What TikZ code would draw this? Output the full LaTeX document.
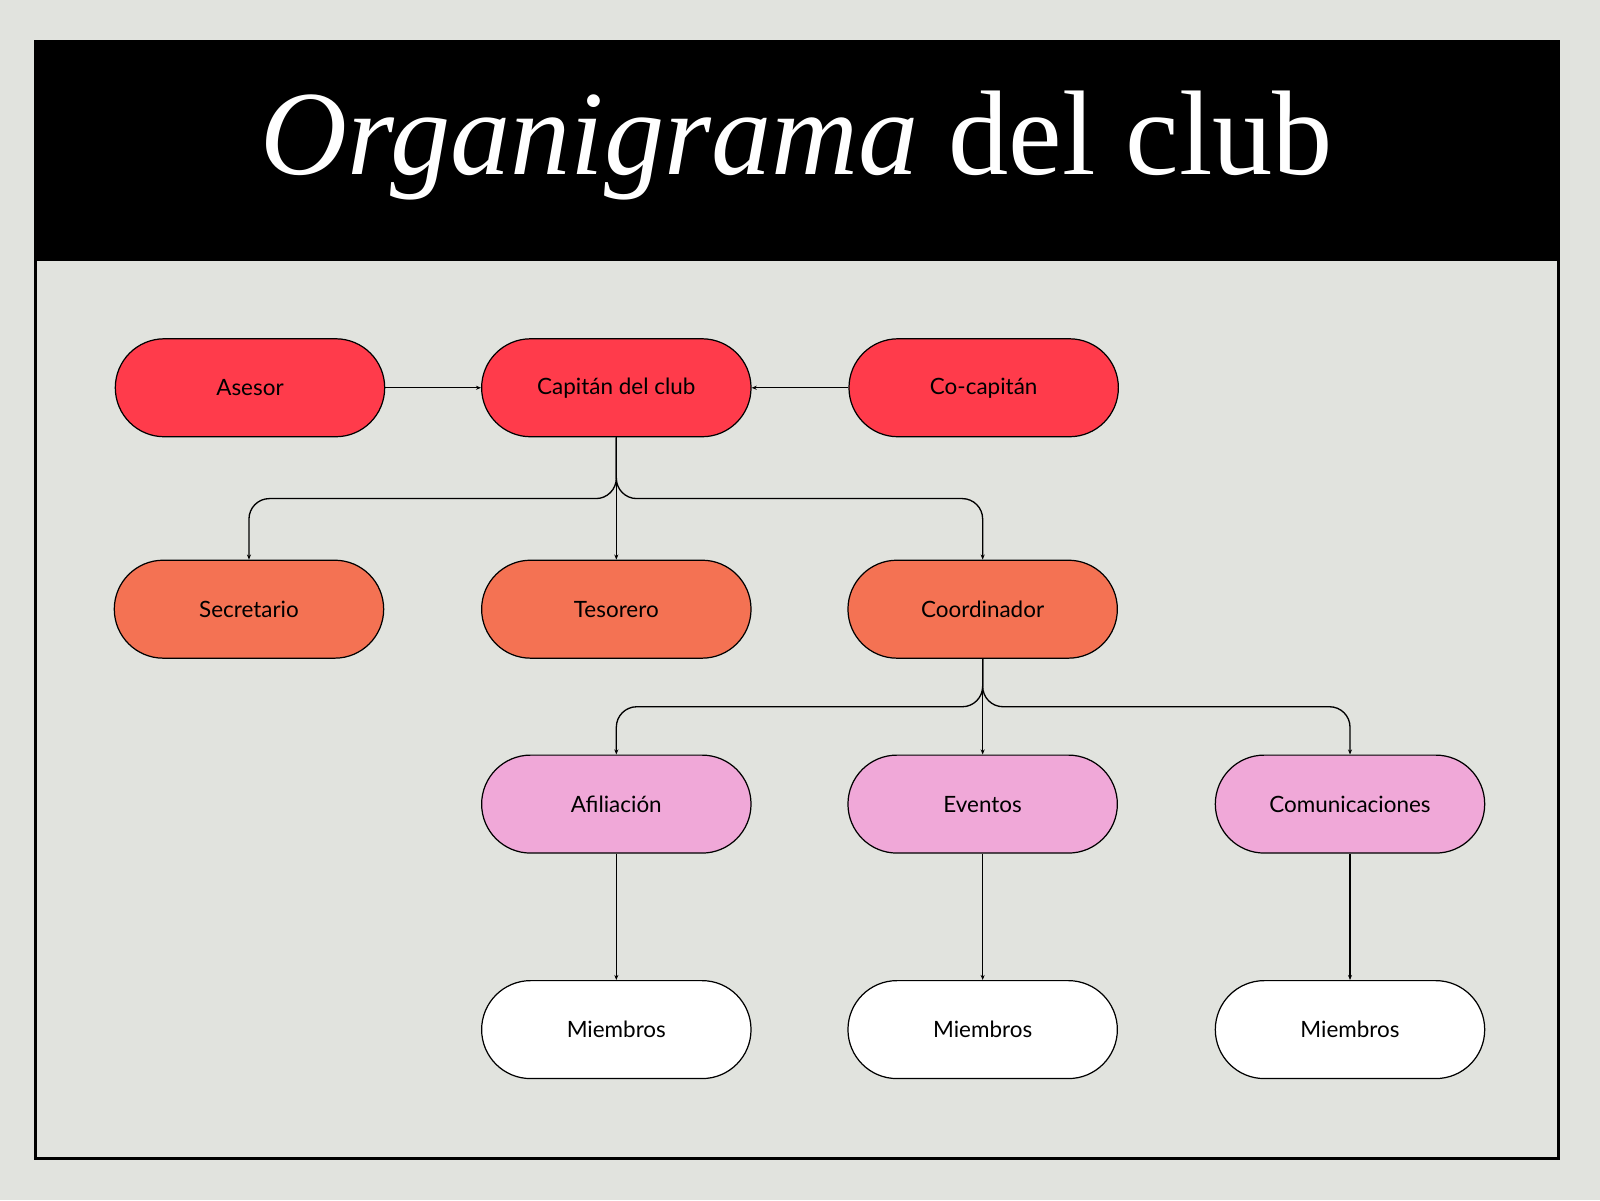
\documentclass[tikz,border=0pt]{standalone}
\usepackage{fontspec}
\setmainfont{Liberation Serif}
\newfontfamily\nodefont{Lato}
\usetikzlibrary{arrows.meta}
\definecolor{bg}{HTML}{E1E3DE}
\definecolor{cred}{HTML}{FF3B4B}
\definecolor{corange}{HTML}{F47253}
\definecolor{cpink}{HTML}{F0A8D8}
\begin{document}
\begin{tikzpicture}[x=1pt,y=-1pt,
  box/.style={draw=black,line width=1.2pt,minimum width=264pt,minimum height=96pt,rounded corners=48pt,font=\nodefont\fontsize{22}{26}\selectfont,inner sep=0pt},
  conn/.style={draw=black,line width=1.3pt,-{Stealth[length=5pt,width=4pt]}},
  br/.style={conn,rounded corners=20pt}]
\fill[bg] (0,0) rectangle (1568,1176);
\useasboundingbox (0,0) rectangle (1568,1176);
\draw[line width=3pt,fill=bg] (35,41) rectangle (1527,1135);
\fill[black] (35,41) rectangle (1527,256);
\node[text=white,font=\fontsize{118}{130}\selectfont] (title) at (781,143) {\textit{Organigrama} del club};
\node[box,fill=cred] (ase) at (245,380) {Asesor};
\node[box,fill=cred] (cap) at (604,380) {Capitán del club};
\node[box,fill=cred] (coc) at (964,380) {Co-capitán};
\node[box,fill=corange] (sec) at (244,597) {Secretario};
\node[box,fill=corange] (tes) at (604,597) {Tesorero};
\node[box,fill=corange] (coo) at (963,597) {Coordinador};
\node[box,fill=cpink] (afi) at (604,788) {Afiliación};
\node[box,fill=cpink] (eve) at (963,788) {Eventos};
\node[box,fill=cpink] (com) at (1323,788) {Comunicaciones};
\node[box,fill=white] (m1) at (604,1009) {Miembros};
\node[box,fill=white] (m2) at (963,1009) {Miembros};
\node[box,fill=white] (m3) at (1323,1009) {Miembros};
\draw[conn] (ase) -- (cap);
\draw[conn] (coc) -- (cap);
\draw[br] (cap.south) -- ++(0,60) -| (sec.north);
\draw[conn] (cap.south) -- (tes.north);
\draw[br] (cap.south) -- ++(0,60) -| (coo.north);
\draw[br] (coo.south) -- ++(0,47) -| (afi.north);
\draw[conn] (coo.south) -- (eve.north);
\draw[br] (coo.south) -- ++(0,47) -| (com.north);
\draw[conn] (afi) -- (m1);
\draw[conn] (eve) -- (m2);
\draw[conn] (com) -- (m3);
\end{tikzpicture}
\end{document}
